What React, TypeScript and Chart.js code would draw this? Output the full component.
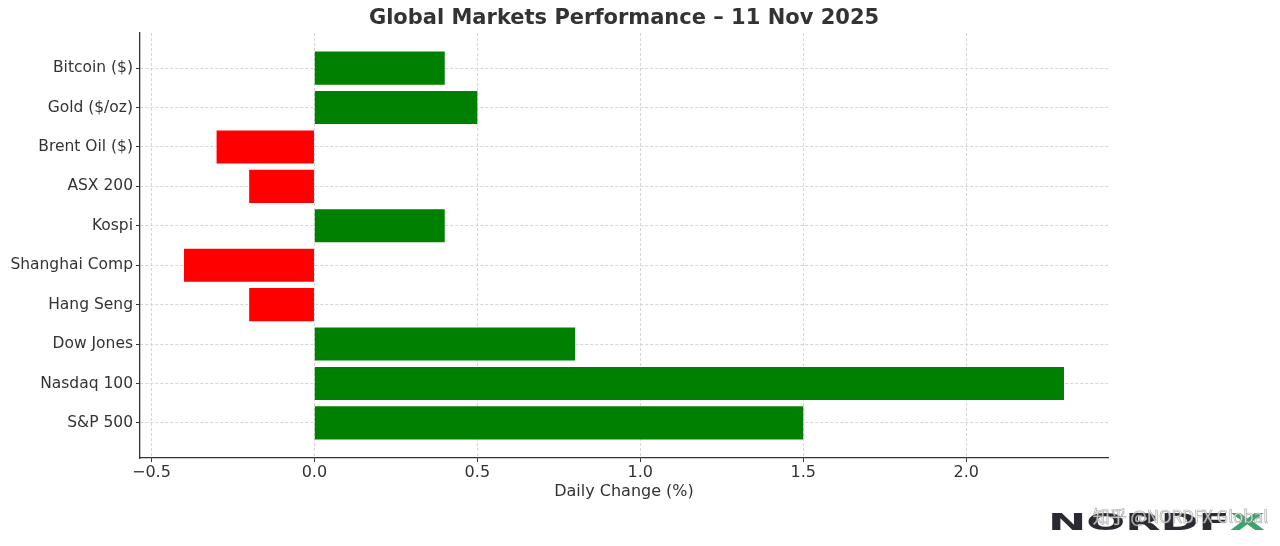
import React, { useEffect, useRef } from "react";
import { Chart, registerables } from "chart.js";

Chart.register(...registerables);

const categories = [
  "Bitcoin ($)",
  "Gold ($/oz)",
  "Brent Oil ($)",
  "ASX 200",
  "Kospi",
  "Shanghai Comp",
  "Hang Seng",
  "Dow Jones",
  "Nasdaq 100",
  "S&P 500",
];
const changes = [0.4, 0.5, -0.3, -0.2, 0.4, -0.4, -0.2, 0.8, 2.3, 1.5];
const xTicks = [-0.5, 0.0, 0.5, 1.0, 1.5, 2.0];
const titleText = "Global Markets Performance – 11 Nov 2025";
const xAxisTitle = "Daily Change (%)";
const logoMain = "NORDF";
const logoAccent = "X";
const watermarkText = "知乎 @NORDFX Global";

const FONT = "'DejaVu Sans', sans-serif";
const TEXT = "#333333";
const GRID = "#cccccc";

const overlayPlugin = {
  id: "overlay",
  afterDraw(chart: any) {
    const { ctx, chartArea } = chart;
    ctx.save();
    // Title
    ctx.fillStyle = TEXT;
    ctx.font = `bold 21px ${FONT}`;
    ctx.textAlign = "center";
    ctx.textBaseline = "middle";
    ctx.fillText(titleText, (chartArea.left + chartArea.right) / 2, 19);

    // Watermark logo
    ctx.font = `bold 24px ${FONT}`;
    ctx.textAlign = "left";
    ctx.textBaseline = "alphabetic";
    const wMain = ctx.measureText(logoMain).width;
    const wAcc = ctx.measureText(logoAccent).width;
    const targetW = 1265 - 1048;
    const sx = targetW / (wMain + wAcc);
    ctx.save();
    ctx.translate(1048, 530);
    ctx.scale(sx, 0.98);
    ctx.fillStyle = "#2b2a33";
    ctx.fillText(logoMain, 0, 0);
    ctx.fillStyle = "#3aa46a";
    ctx.fillText(logoAccent, wMain, 0);
    ctx.restore();

    // Watermark overlay text
    ctx.font = `17px 'Noto Sans CJK SC', ${FONT}`;
    ctx.textAlign = "right";
    ctx.textBaseline = "middle";
    ctx.globalAlpha = 0.8;
    ctx.lineWidth = 0.7;
    ctx.strokeStyle = "rgba(140,140,140,0.9)";
    ctx.fillStyle = "rgba(255,255,255,0.97)";
    ctx.fillText(watermarkText, 1268, 517);
    ctx.strokeText(watermarkText, 1268, 517);
    ctx.restore();
  },
};

export default function App() {
  const canvasRef = useRef<HTMLCanvasElement | null>(null);

  useEffect(() => {
    const canvas = canvasRef.current;
    if (!canvas) return;
    const chart = new Chart(canvas, {
      type: "bar",
      data: {
        datasets: [
          {
            data: changes.map((v, i) => ({ x: v, y: i })),
            backgroundColor: changes.map((v) => (v >= 0 ? "#008000" : "#ff0000")),
            borderWidth: 0,
            categoryPercentage: 1,
            barPercentage: 0.84,
          },
        ],
      },
      options: {
        indexAxis: "y",
        animation: false,
        responsive: false,
        maintainAspectRatio: false,
        layout: { padding: { left: 0, right: 172, top: 33, bottom: 42 } },
        plugins: {
          legend: { display: false },
          title: { display: false },
          tooltip: { enabled: false },
        },
        scales: {
          x: {
            type: "linear",
            min: -0.535,
            max: 2.435,
            afterBuildTicks: (scale: any) => {
              scale.ticks = xTicks.map((v) => ({ value: v }));
            },
            afterFit: (scale: any) => {
              scale.height = 46;
            },
            ticks: {
              color: TEXT,
              font: { family: FONT, size: 16 },
              padding: 1,
              maxRotation: 0,
              callback: (v: any) => {
                const n = Number(v);
                return n < 0 ? "\u2212" + Math.abs(n).toFixed(1) : n.toFixed(1);
              },
            },
            grid: {
              color: GRID,
              lineWidth: 0.8,
              tickColor: TEXT,
              tickLength: 4,
              tickWidth: 1,
            },
            border: { display: true, color: TEXT, width: 1.3, dash: [3, 2] },
            title: {
              display: true,
              text: xAxisTitle,
              color: TEXT,
              font: { family: FONT, size: 16 },
              padding: { top: 4, bottom: 3 },
            },
          },
          y: {
            type: "linear",
            reverse: true,
            offset: false,
            min: -0.89,
            max: 9.89,
            afterBuildTicks: (scale: any) => {
              scale.ticks = categories.map((_, i) => ({ value: i }));
            },
            afterFit: (scale: any) => {
              scale.width = 140;
            },
            ticks: {
              color: TEXT,
              font: { family: FONT, size: 15.5 },
              padding: 3,
              callback: (v: any) => categories[Math.round(Number(v))] ?? "",
            },
            grid: {
              offset: false,
              color: GRID,
              lineWidth: 0.8,
              tickColor: TEXT,
              tickLength: 4,
              tickWidth: 1,
            },
            border: { display: true, color: TEXT, width: 1.3, dash: [3, 2] },
          },
        },
      },
      plugins: [overlayPlugin],
    } as any);
    return () => chart.destroy();
  }, []);

  return (
    <div style={{ position: "fixed", left: 0, top: 0, width: 1280, height: 546, background: "#fff" }}>
      <canvas ref={canvasRef} width={1280} height={546} style={{ display: "block", width: 1280, height: 546 }} />
    </div>
  );
}
